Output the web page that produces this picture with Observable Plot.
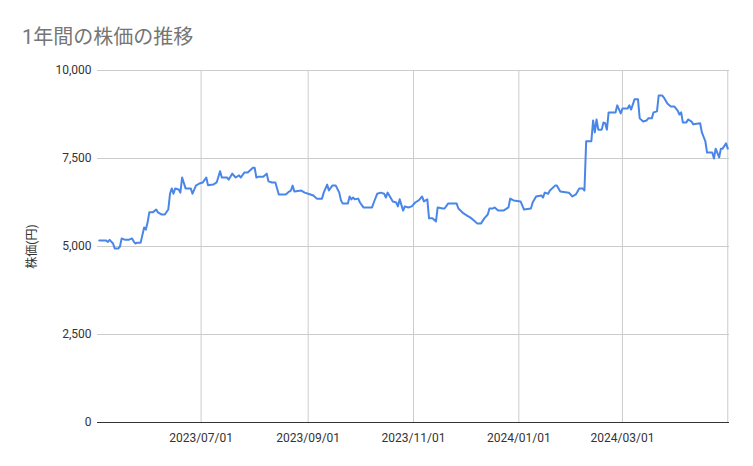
<!DOCTYPE html>
<html><head><meta charset="utf-8">
<script src="https://cdn.jsdelivr.net/npm/d3@7"></script>
<script src="https://cdn.jsdelivr.net/npm/@observablehq/plot@0.6"></script>
<style>
body{margin:0;background:#fff;font-family:Roboto,"Noto Sans CJK JP",sans-serif;}
#title{height:55px;box-sizing:border-box;padding:27px 0 0 22px;font-size:20px;line-height:20px;color:#757575;font-family:Roboto,"Noto Sans CJK JP",sans-serif;}
</style></head><body>
<div id="title">1年間の株価の推移</div>
<div id="chart"></div>
<script>
const dates = [
"2023-05-03","2023-05-07","2023-05-08","2023-05-09","2023-05-11","2023-05-12","2023-05-14","2023-05-15","2023-05-16","2023-05-18",
"2023-05-20","2023-05-22","2023-05-23","2023-05-24","2023-05-25","2023-05-27","2023-05-29","2023-05-30","2023-05-31","2023-06-01",
"2023-06-03","2023-06-05","2023-06-06","2023-06-08","2023-06-10","2023-06-12","2023-06-13","2023-06-14","2023-06-15","2023-06-16",
"2023-06-18","2023-06-19","2023-06-20","2023-06-22","2023-06-25","2023-06-26","2023-06-28","2023-06-30","2023-07-02","2023-07-04",
"2023-07-05","2023-07-08","2023-07-10","2023-07-12","2023-07-13","2023-07-16","2023-07-17","2023-07-19","2023-07-21","2023-07-23",
"2023-07-24","2023-07-26","2023-07-28","2023-07-31","2023-08-01","2023-08-02","2023-08-03","2023-08-06","2023-08-08","2023-08-09",
"2023-08-11","2023-08-13","2023-08-14","2023-08-15","2023-08-19","2023-08-21","2023-08-22","2023-08-23","2023-08-24","2023-08-28",
"2023-08-30","2023-09-01","2023-09-04","2023-09-06","2023-09-09","2023-09-10","2023-09-12","2023-09-13","2023-09-15","2023-09-17",
"2023-09-19","2023-09-20","2023-09-21","2023-09-24","2023-09-25","2023-09-26","2023-09-27","2023-09-28","2023-09-30","2023-10-01",
"2023-10-03","2023-10-08","2023-10-09","2023-10-11","2023-10-13","2023-10-15","2023-10-16","2023-10-17","2023-10-18","2023-10-20",
"2023-10-22","2023-10-23","2023-10-24","2023-10-26","2023-10-27","2023-10-29","2023-10-31","2023-11-02","2023-11-04","2023-11-06",
"2023-11-07","2023-11-09","2023-11-10","2023-11-12","2023-11-14","2023-11-15","2023-11-18","2023-11-19","2023-11-21","2023-11-26",
"2023-11-27","2023-11-30","2023-12-02","2023-12-04","2023-12-06","2023-12-08","2023-12-10","2023-12-12","2023-12-14","2023-12-15",
"2023-12-17","2023-12-18","2023-12-20","2023-12-23","2023-12-24","2023-12-26","2023-12-27","2023-12-29","2024-01-02","2024-01-04",
"2024-01-08","2024-01-09","2024-01-11","2024-01-14","2024-01-15","2024-01-16","2024-01-18","2024-01-19","2024-01-22","2024-01-23",
"2024-01-25","2024-01-30","2024-02-01","2024-02-03","2024-02-05","2024-02-07","2024-02-08","2024-02-09","2024-02-12","2024-02-13",
"2024-02-14","2024-02-15","2024-02-16","2024-02-18","2024-02-19","2024-02-20","2024-02-21","2024-02-22","2024-02-26","2024-02-27",
"2024-02-29","2024-03-01","2024-03-04","2024-03-05","2024-03-06","2024-03-08","2024-03-10","2024-03-11","2024-03-13","2024-03-15",
"2024-03-16","2024-03-18","2024-03-19","2024-03-21","2024-03-22","2024-03-24","2024-03-25","2024-03-27","2024-03-29","2024-03-31",
"2024-04-02","2024-04-03","2024-04-04","2024-04-05","2024-04-07","2024-04-08","2024-04-10","2024-04-11","2024-04-15","2024-04-16",
"2024-04-18","2024-04-19","2024-04-22","2024-04-23","2024-04-24","2024-04-26","2024-04-27","2024-04-28","2024-04-30","2024-05-01"
];
const prices = [
5170,5170,5130,5190,5085,4940,4940,5000,5230,5190,
5190,5230,5140,5085,5110,5110,5540,5480,5680,5970,
5970,6050,5970,5910,5910,6050,6500,6650,6500,6650,
6620,6530,6960,6650,6650,6500,6730,6790,6820,6960,
6740,6760,6820,7140,6960,6960,6900,7070,6960,7020,
6960,7100,7100,7240,7240,6960,6980,6980,7070,6850,
6820,6820,6650,6480,6480,6560,6590,6730,6560,6590,
6530,6500,6450,6360,6360,6530,6760,6590,6730,6730,
6530,6310,6220,6220,6420,6340,6390,6340,6360,6250,
6110,6110,6250,6500,6530,6500,6390,6530,6450,6280,
6250,6140,6340,6020,6140,6110,6140,6250,6310,6420,
6280,6340,5800,5800,5710,6110,6080,6080,6220,6220,
6080,5940,5880,5820,5740,5650,5650,5800,5910,6080,
6080,6110,6020,6020,6050,6110,6360,6310,6280,6050,
6080,6250,6420,6450,6390,6530,6500,6590,6730,6730,
6560,6530,6420,6480,6650,6650,6590,7990,7990,8580,
8240,8610,8320,8320,8520,8500,8320,8810,8810,9010,
8780,8920,8920,9010,8890,9180,9180,8640,8550,8580,
8640,8640,8810,8840,9290,9290,9230,9060,8980,8980,
8860,8750,8810,8520,8520,8610,8550,8470,8500,8240,
7990,7670,7670,7500,7780,7530,7780,7780,7930,7780
];
const yTicks = [0, 2500, 5000, 7500, 10000];
const xTickDates = ["2023-07-01", "2023-09-01", "2023-11-01", "2024-01-01", "2024-03-01"];
const xGridDates = ["2023-07-01", "2023-09-01", "2023-11-01", "2024-01-01", "2024-03-01", "2024-05-01"];
const yLabel = "株価(円)";

const parse = s => new Date(s + "T00:00:00Z");
const data = dates.map((d, i) => ({date: parse(d), price: prices[i]}));

const chart = Plot.plot({
  width: 753, height: 411,
  marginTop: 15, marginBottom: 44, marginLeft: 97, marginRight: 24,
  style: {fontFamily: 'Roboto, "Noto Sans CJK JP", sans-serif', fontSize: "12px", color: "#333", background: "#fff"},
  x: {type: "utc", domain: [parse("2023-05-02"), parse("2024-05-02")]},
  y: {domain: [0, 10000]},
  marks: [
    Plot.gridY(yTicks.filter(v => v > 0), {stroke: "#cccccc", strokeOpacity: 1}),
    Plot.gridX(xGridDates.map(parse), {stroke: "#cccccc", strokeOpacity: 1}),
    Plot.ruleY([0], {stroke: "#333333"}),
    Plot.axisY(yTicks, {tickSize: 0, tickPadding: 6, tickFormat: d3.format(","), label: yLabel, labelAnchor: "center", labelArrow: "none", labelOffset: 70}),
    Plot.axisX(xTickDates.map(parse), {tickSize: 0, tickPadding: 11, tickFormat: d3.utcFormat("%Y/%m/%d"), label: null}),
    Plot.lineY(data, {x: "date", y: "price", stroke: "#4a86e8", strokeWidth: 2})
  ]
});
document.getElementById("chart").appendChild(chart);
</script>
</body></html>
